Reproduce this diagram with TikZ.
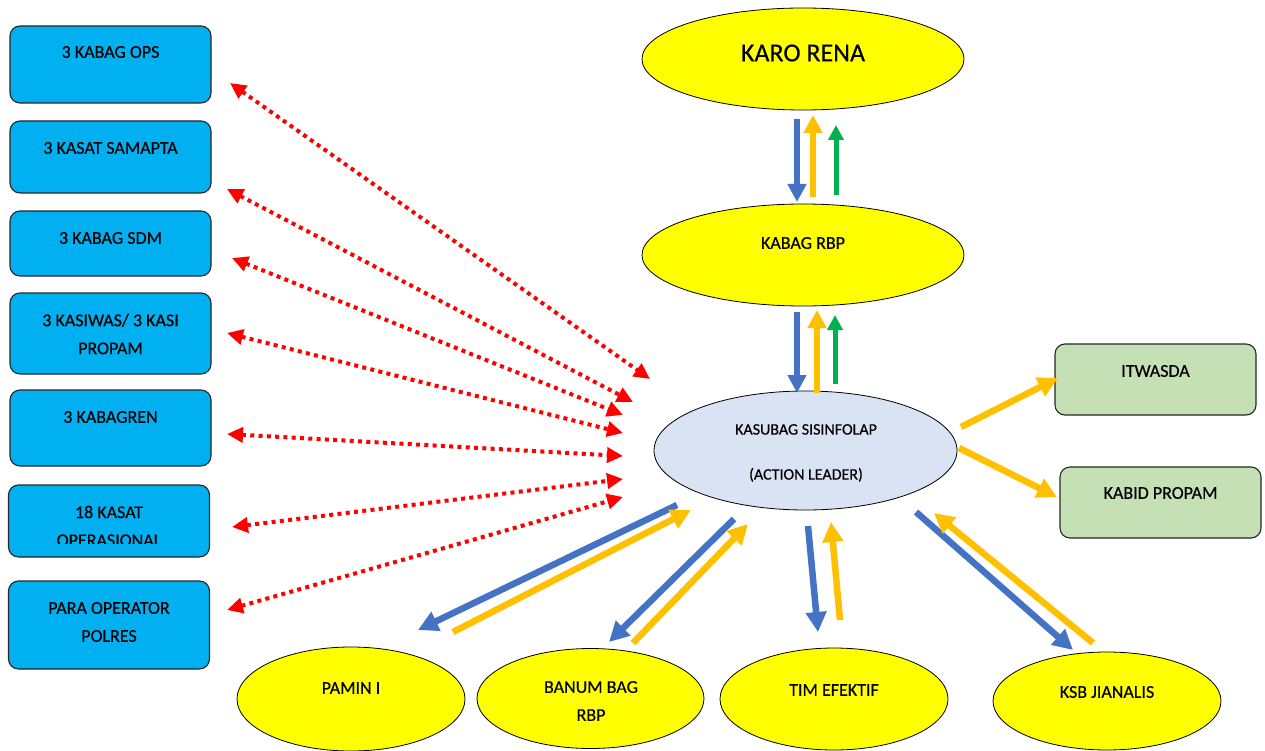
\documentclass[tikz,border=0pt]{standalone}
\usepackage{fontspec}
\setmainfont{Carlito}[FakeBold=0.35]
\usetikzlibrary{arrows.meta,shapes.geometric}

\definecolor{boxblue}{HTML}{00B0F0}
\definecolor{boxgreen}{HTML}{C5E0B4}
\definecolor{ovalyellow}{HTML}{FFFF00}
\definecolor{ovallight}{HTML}{DAE3F3}
\definecolor{flowblue}{HTML}{4472C4}
\definecolor{floworange}{HTML}{FFC000}
\definecolor{flowgreen}{HTML}{00B050}
\definecolor{linkred}{HTML}{FF0000}
\definecolor{edgegrey}{HTML}{262626}

\tikzset{
  unitbox/.style={draw=edgegrey, line width=1.1pt, rounded corners=10pt,
    fill=boxblue, minimum width=201pt, inner sep=0pt},
  auditbox/.style={unitbox, fill=boxgreen},
  yellowoval/.style={ellipse, draw=black, line width=0.8pt, fill=ovalyellow, inner sep=0pt},
  leaderoval/.style={yellowoval, fill=ovallight},
  lbl/.style={font=\fontsize{18}{28}\selectfont, align=center, inner sep=0pt},
  flowline/.style={line width=6pt, -{Triangle[length=18pt,width=18pt]}},
  blueflow/.style={flowline, draw=flowblue},
  orangeflow/.style={flowline, draw=floworange},
  greenflow/.style={flowline, draw=flowgreen, line width=5pt, -{Triangle[length=15pt,width=15pt]}},
  bigflow/.style={line width=6.5pt, -{Triangle[length=20pt,width=20pt]}},
  bigblue/.style={bigflow, draw=flowblue},
  bigorange/.style={bigflow, draw=floworange},
  redlink/.style={draw=linkred, line width=4pt, dash pattern=on 4pt off 4.3pt,
    {Triangle[length=16pt,width=15pt]}-{Triangle[length=16pt,width=15pt]}},
}

\begin{document}
\begin{tikzpicture}[x=1pt,y=-1pt]
\fill[white] (0,0) rectangle (1265,751);
\useasboundingbox (0,0) rectangle (1265,751);

% ---------- units on the left ----------
\node[unitbox, minimum height=77pt] (ops) at (110.5,64.5) {};
\node[lbl] (opsT) at (110.5,52) {3 KABAG OPS};
\node[unitbox, minimum height=72pt] (samapta) at (110.5,157) {};
\node[lbl] (samaptaT) at (110.5,148) {3 KASAT SAMAPTA};
\node[unitbox, minimum height=65pt] (sdm) at (110.5,243.5) {};
\node[lbl] (sdmT) at (110.5,238) {3 KABAG SDM};
\node[unitbox, minimum height=81pt] (siwas) at (110.5,333.5) {};
\node[lbl] (siwasT) at (110.5,334) {3 KASIWAS/ 3 KASI\\PROPAM};
\node[unitbox, minimum height=76pt] (bagren) at (110.5,428) {};
\node[lbl] (bagrenT) at (110.5,417) {3 KABAGREN};
\node[unitbox, minimum height=72pt] (kasat) at (109,521) {};
\begin{scope}
  \clip (8,485) rectangle (210,543.5);
  \node[lbl] (kasatT) at (109,526) {18 KASAT\\OPERASIONAL};
\end{scope}
\node[unitbox, minimum height=88pt] (operator) at (109,625) {};
\node[lbl] (operatorT) at (109,622) {PARA OPERATOR\\POLRES};

% ---------- chain of command ----------
\node[yellowoval, minimum width=322pt, minimum height=102pt] (karo) at (803,59) {};
\node[lbl, font=\fontsize{26}{30}\selectfont] (karoT) at (803,53) {KARO RENA};
\node[yellowoval, minimum width=322pt, minimum height=102pt] (kabag) at (803,255) {};
\node[lbl] (kabagT) at (803,243) {KABAG RBP};
\node[leaderoval, minimum width=303pt, minimum height=119pt] (leader) at (805.5,450.5) {};
\node[lbl, font=\fontsize{16}{45}\selectfont] (leaderT) at (806,453) {KASUBAG SISINFOLAP\\(ACTION LEADER)};

% ---------- supervisors on the right ----------
\node[auditbox, minimum height=71pt] (itwasda) at (1155.5,379.5) {};
\node[lbl] (itwasdaT) at (1155.5,371) {ITWASDA};
\node[auditbox, minimum height=71pt] (propam) at (1160.5,502.5) {};
\node[lbl] (propamT) at (1160.5,493) {KABID PROPAM};

% ---------- teams at the bottom ----------
\node[yellowoval, minimum width=228pt, minimum height=104pt] (pamin) at (351,699) {};
\node[lbl] (paminT) at (351,688) {PAMIN I};
\node[yellowoval, minimum width=227pt, minimum height=100pt] (banum) at (590.5,698.5) {};
\node[lbl] (banumT) at (591,701) {BANUM BAG\\RBP};
\node[yellowoval, minimum width=228pt, minimum height=102pt] (tim) at (834,699) {};
\node[lbl] (timT) at (834,690) {TIM EFEKTIF};
\node[yellowoval, minimum width=228pt, minimum height=98pt] (ksb) at (1107,701) {};
\node[lbl] (ksbT) at (1107,692) {KSB JIANALIS};

% ---------- connector end points ----------
\coordinate (k1a) at (797,119);  \coordinate (k1b) at (797,202);
\coordinate (k2a) at (813,197);  \coordinate (k2b) at (813,115);
\coordinate (k3a) at (836,195);  \coordinate (k3b) at (836,125);
\coordinate (r1a) at (797,312);  \coordinate (r1b) at (797,393);
\coordinate (r2a) at (817,393);  \coordinate (r2b) at (817,310);
\coordinate (r3a) at (835,384);  \coordinate (r3b) at (835,315);
\coordinate (i1a) at (961,427);  \coordinate (i1b) at (1058,378);
\coordinate (p1a) at (959,448);  \coordinate (p1b) at (1057,497);
\coordinate (pa1) at (677,505);  \coordinate (pa2) at (418,630);
\coordinate (pa3) at (453,632);  \coordinate (pa4) at (691,510);
\coordinate (ba1) at (734,519);  \coordinate (ba2) at (609,642);
\coordinate (ba3) at (633,643);  \coordinate (ba4) at (748,524);
\coordinate (ti1) at (808,526);  \coordinate (ti2) at (818,632);
\coordinate (ti3) at (840,620);  \coordinate (ti4) at (831,522);
\coordinate (ks1) at (916,512);  \coordinate (ks2) at (1073,650);
\coordinate (ks3) at (1093,643); \coordinate (ks4) at (934,513);

\coordinate (opsL) at (230,83);       \coordinate (opsR) at (650,379);
\coordinate (samaptaL) at (227,189);  \coordinate (samaptaR) at (633,402);
\coordinate (sdmL) at (232,258);      \coordinate (sdmR) at (623,415);
\coordinate (siwasL) at (227,333);    \coordinate (siwasR) at (623,433);
\coordinate (bagrenL) at (227,434);   \coordinate (bagrenR) at (623,456);
\coordinate (kasatL) at (232,527);    \coordinate (kasatR) at (623,479);
\coordinate (operatorL) at (227,610); \coordinate (operatorR) at (623,497);

% ---------- vertical flows ----------
\draw[blueflow] (k1a) -- (k1b);
\draw[orangeflow] (k2a) -- (k2b);
\draw[greenflow] (k3a) -- (k3b);
\draw[blueflow] (r1a) -- (r1b);
\draw[orangeflow] (r2a) -- (r2b);
\draw[greenflow] (r3a) -- (r3b);

% ---------- reports to the right ----------
\draw[bigorange] (i1a) -- (i1b);
\draw[bigorange] (p1a) -- (p1b);

% ---------- flows to the teams ----------
\draw[bigblue] (pa1) -- (pa2);
\draw[bigorange] (pa3) -- (pa4);
\draw[bigblue] (ba1) -- (ba2);
\draw[bigorange] (ba3) -- (ba4);
\draw[bigblue] (ti1) -- (ti2);
\draw[bigorange] (ti3) -- (ti4);
\draw[bigblue] (ks1) -- (ks2);
\draw[bigorange] (ks3) -- (ks4);

% ---------- coordination links ----------
\foreach \u in {ops,samapta,sdm,siwas,bagren,kasat,operator}
  \draw[redlink] (\u L) -- (\u R);
\end{tikzpicture}
\end{document}
